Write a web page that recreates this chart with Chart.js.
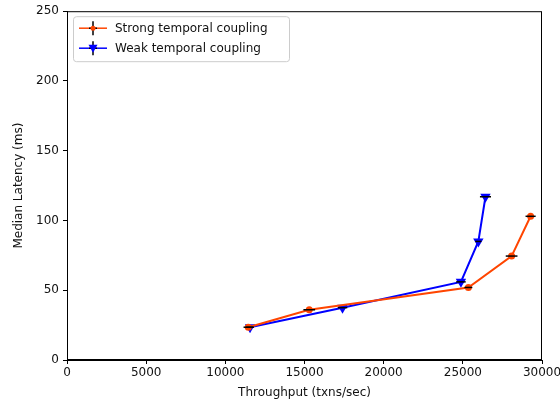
<!DOCTYPE html>
<html>
<head>
<meta charset="utf-8">
<script src="https://cdn.jsdelivr.net/npm/chart.js@4/dist/chart.umd.min.js"></script>
<style>
  html, body { margin: 0; padding: 0; background: #fff; }
  #wrap { width: 560px; height: 404px; }
</style>
</head>
<body>
<div id="wrap"><canvas id="chart" width="560" height="404"></canvas></div>
<script>
// throughput (txns/sec) and median latency (ms) per run
const strongThroughput = [11450, 15300, 25350, 28080, 29280];
const strongLatency = [23.5, 36, 52, 74.5, 103];
const strongThroughputErr = [300, 370, 250, 370, 320];

const weakThroughput = [11560, 17400, 24880, 25980, 26430];
const weakLatency = [23.5, 37.5, 56, 85, 117];
const weakThroughputErr = [250, 300, 300, 200, 350];

const xTicks = [0, 5000, 10000, 15000, 20000, 25000, 30000];
const yTicks = [0, 50, 100, 150, 200, 250];

const FONT = "DejaVu Sans";

function toPoints(xs, ys) {
  return xs.map((x, i) => ({ x: x, y: ys[i] }));
}

// horizontal error bars drawn through the scales
const errorBars = {
  id: "errorBars",
  afterDatasetsDraw(chart) {
    const ctx = chart.ctx;
    const xs = chart.scales.x;
    const ys = chart.scales.y;
    ctx.save();
    ctx.strokeStyle = "#000";
    ctx.lineWidth = 1.5;
    chart.data.datasets.forEach((ds) => {
      ds.data.forEach((p, i) => {
        const err = ds.xErr[i];
        const py = ys.getPixelForValue(p.y);
        ctx.beginPath();
        ctx.moveTo(xs.getPixelForValue(p.x - err), py);
        ctx.lineTo(xs.getPixelForValue(p.x + err), py);
        ctx.stroke();
      });
    });
    ctx.restore();
  },
};

// frame around the plot plus the legend box in the top-left corner
const frameAndLegend = {
  id: "frameAndLegend",
  afterDraw(chart) {
    const ctx = chart.ctx;
    const a = chart.chartArea;
    ctx.save();
    ctx.strokeStyle = "#000";
    ctx.lineWidth = 1;
    ctx.strokeRect(a.left + 0.5, a.top + 0.5, a.right - a.left - 1, a.bottom - a.top - 1);

    const bx = a.left + 6, by = a.top + 5, bw = 216, bh = 45;
    ctx.fillStyle = "rgba(255,255,255,0.8)";
    ctx.strokeStyle = "#ccc";
    ctx.beginPath();
    ctx.roundRect(bx + 0.5, by + 0.5, bw, bh, 3);
    ctx.fill();
    ctx.stroke();

    ctx.font = "12px '" + FONT + "'";
    ctx.textBaseline = "middle";
    chart.data.datasets.forEach((ds, i) => {
      const cy = by + 12 + i * 20;
      const x0 = bx + 6, x1 = bx + 34, cx = (x0 + x1) / 2;
      ctx.strokeStyle = ds.borderColor;
      ctx.lineWidth = 1.5;
      ctx.beginPath();
      ctx.moveTo(x0, cy);
      ctx.lineTo(x1, cy);
      ctx.stroke();
      ctx.strokeStyle = "#000";
      ctx.beginPath();
      ctx.moveTo(cx - 4, cy);
      ctx.lineTo(cx + 4, cy);
      ctx.moveTo(cx, cy - 7);
      ctx.lineTo(cx, cy + 7);
      ctx.stroke();
      ctx.fillStyle = ds.borderColor;
      ctx.beginPath();
      if (ds.pointStyle === "triangle") {
        ctx.moveTo(cx - 4.5, cy - 3.5);
        ctx.lineTo(cx + 4.5, cy - 3.5);
        ctx.lineTo(cx, cy + 4.5);
        ctx.closePath();
      } else {
        ctx.arc(cx, cy, 2.5, 0, Math.PI * 2);
      }
      ctx.fill();
      ctx.fillStyle = "#111";
      ctx.fillText(ds.label, x1 + 8, cy + 1);
    });
    ctx.restore();
  },
};

new Chart(document.getElementById("chart").getContext("2d"), {
  type: "line",
  data: {
    datasets: [
      {
        label: "Strong temporal coupling",
        data: toPoints(strongThroughput, strongLatency),
        xErr: strongThroughputErr,
        borderColor: "#ff4500",
        backgroundColor: "#ff4500",
        borderWidth: 2,
        pointStyle: "circle",
        pointRadius: 3.5,
        pointBorderWidth: 0,
        tension: 0,
      },
      {
        label: "Weak temporal coupling",
        data: toPoints(weakThroughput, weakLatency),
        xErr: weakThroughputErr,
        borderColor: "#0000ff",
        backgroundColor: "#0000ff",
        borderWidth: 2,
        pointStyle: "triangle",
        pointRotation: 180,
        pointRadius: 6,
        pointBorderWidth: 0,
        tension: 0,
      },
    ],
  },
  options: {
    responsive: false,
    animation: false,
    layout: { padding: { top: 9, right: 18, left: 0, bottom: 0 } },
    plugins: { legend: { display: false }, tooltip: { enabled: false } },
    scales: {
      x: {
        type: "linear",
        min: 0,
        max: 30000,
        afterBuildTicks: (s) => { s.ticks = xTicks.map((v) => ({ value: v })); },
        afterFit: (s) => { s.height = 44; s.paddingRight = 0; s.paddingLeft = 0; },
        grid: { drawOnChartArea: false, drawTicks: true, tickLength: 4, color: "#000" },
        border: { color: "#000" },
        ticks: {
          color: "#111",
          padding: 2,
          maxRotation: 0,
          font: { family: FONT, size: 12 },
          callback: (v) => String(v),
        },
        title: {
          display: true,
          text: "Throughput (txns/sec)",
          color: "#111",
          font: { family: FONT, size: 12 },
          padding: { top: 0, bottom: 4 },
        },
      },
      y: {
        type: "linear",
        min: 0,
        max: 250,
        afterBuildTicks: (s) => { s.ticks = yTicks.map((v) => ({ value: v })); },
        afterFit: (s) => { s.width = 67; },
        grid: { drawOnChartArea: false, drawTicks: true, tickLength: 4, color: "#000" },
        border: { color: "#000" },
        ticks: { color: "#111", padding: 4, font: { family: FONT, size: 12 }, callback: (v) => String(v) },
        title: {
          display: true,
          text: "Median Latency (ms)",
          color: "#111",
          font: { family: FONT, size: 12 },
          padding: { top: 12, bottom: 0 },
        },
      },
    },
  },
  plugins: [errorBars, frameAndLegend],
});
</script>
</body>
</html>
